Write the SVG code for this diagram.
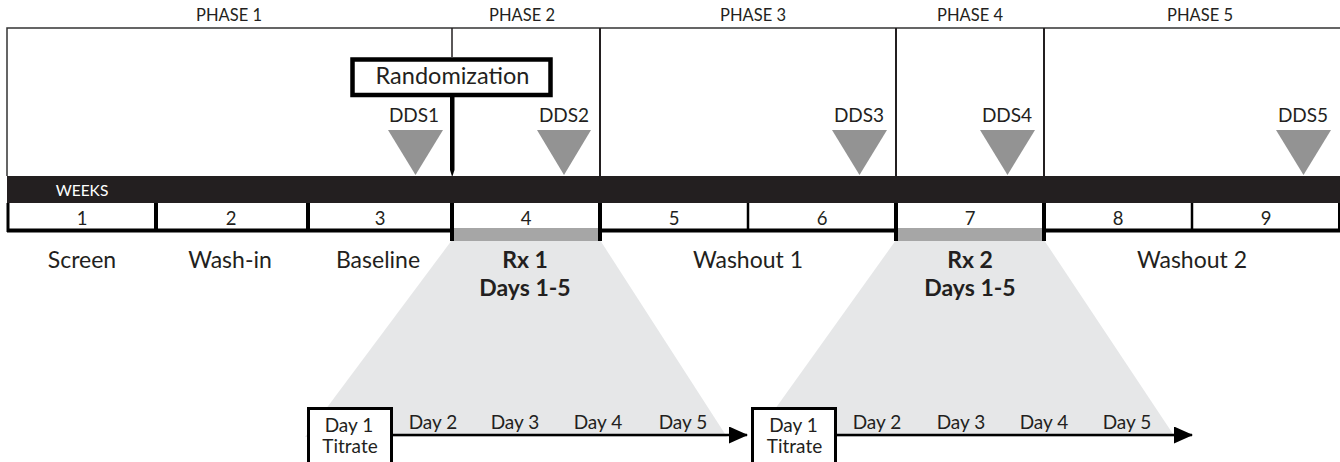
<svg xmlns="http://www.w3.org/2000/svg" width="1340" height="462" viewBox="0 0 1340 462">
<style>
text{font-family:Lato,"Open Sans","Liberation Sans",sans-serif;fill:#231f20}
.ph{font-size:16.5px;text-anchor:middle}
.wk{font-size:18.5px;text-anchor:middle}
.lb{font-size:23px;text-anchor:middle}
.bd{font-size:23px;text-anchor:middle;font-weight:bold}
.dds{font-size:19px;text-anchor:middle}
.day{font-size:19px;text-anchor:middle}
.tri{fill:#939393}
.trap{fill:#e6e7e8}
</style>
<defs>
<marker id="ah" markerWidth="19" markerHeight="17" refX="18" refY="8.5" orient="auto" markerUnits="userSpaceOnUse">
<path d="M0,0 L19,8.5 L0,17 Z" fill="#000"/>
</marker>
</defs>
<rect width="1340" height="462" fill="#fff"/>
<g id="trapezoids">
<polygon class="trap" points="452,240 600,240 727,437 305,437"/>
<polygon class="trap" points="896,240 1044,240 1175,437 755,437"/>
</g>
<g id="frame">
<path d="M7,176 V28 H1340" fill="none" stroke="#333" stroke-width="1.5"/>
<line x1="452" y1="28" x2="452" y2="57" stroke="#231f20" stroke-width="1.5"/>
<line x1="600" y1="28" x2="600" y2="176" stroke="#231f20" stroke-width="2"/>
<line x1="896" y1="28" x2="896" y2="176" stroke="#231f20" stroke-width="2"/>
<line x1="1044" y1="28" x2="1044" y2="176" stroke="#231f20" stroke-width="2"/>
</g>
<g id="phases">
<text class="ph" x="229" y="21">PHASE 1</text>
<text class="ph" x="522" y="21">PHASE 2</text>
<text class="ph" x="753" y="21">PHASE 3</text>
<text class="ph" x="970" y="21">PHASE 4</text>
<text class="ph" x="1200" y="21">PHASE 5</text>
</g>
<g id="dds">
<polygon class="tri" points="388,130 443,130 415.5,175"/>
<polygon class="tri" points="537,130 591,130 564,175"/>
<polygon class="tri" points="832,130 887,130 859.5,175"/>
<polygon class="tri" points="980,130 1035,130 1007.5,175"/>
<polygon class="tri" points="1276,130 1331,130 1303.5,175"/>
<text class="dds" x="414" y="121.5">DDS1</text>
<text class="dds" x="564" y="121.5">DDS2</text>
<text class="dds" x="859" y="121.5">DDS3</text>
<text class="dds" x="1007" y="121.5">DDS4</text>
<text class="dds" x="1303" y="121.5">DDS5</text>
</g>
<g id="randomization">
<rect x="352.5" y="59.5" width="198" height="35.5" fill="#fff" stroke="#000" stroke-width="4.5"/>
<text x="452.5" y="83.5" font-size="23.5" text-anchor="middle">Randomization</text>
<path d="M450,97 H454.5 V170 L452.2,177 L450,170 Z" fill="#000"/>
</g>
<g id="weeks">
<rect x="7" y="176" width="1333" height="27" fill="#231f20"/>
<text x="82" y="196" font-size="15.5" style="fill:#fff" text-anchor="middle">WEEKS</text>
<rect x="7" y="203" width="1333" height="27" fill="#fff"/>
<line x1="7" y1="230.5" x2="1340" y2="230.5" stroke="#000" stroke-width="4"/>
<line x1="8" y1="203" x2="8" y2="232" stroke="#000" stroke-width="3"/>
<line x1="156" y1="203" x2="156" y2="232" stroke="#000" stroke-width="4"/>
<line x1="308" y1="203" x2="308" y2="232" stroke="#000" stroke-width="4"/>
<line x1="748" y1="203" x2="748" y2="232" stroke="#000" stroke-width="2.5"/>
<line x1="1192" y1="203" x2="1192" y2="232" stroke="#000" stroke-width="2.5"/>
<line x1="1339" y1="203" x2="1339" y2="232" stroke="#000" stroke-width="2"/>
<rect x="454" y="228" width="144" height="13" fill="#a6a6a6"/>
<rect x="898" y="228" width="144" height="13" fill="#a6a6a6"/>
<line x1="452" y1="203" x2="452" y2="241" stroke="#000" stroke-width="4"/>
<line x1="600" y1="203" x2="600" y2="241" stroke="#000" stroke-width="4"/>
<line x1="896" y1="203" x2="896" y2="241" stroke="#000" stroke-width="4"/>
<line x1="1044" y1="203" x2="1044" y2="241" stroke="#000" stroke-width="4"/>
<text class="wk" x="82" y="225">1</text>
<text class="wk" x="231" y="225">2</text>
<text class="wk" x="380" y="225">3</text>
<text class="wk" x="526" y="225">4</text>
<text class="wk" x="674" y="225">5</text>
<text class="wk" x="822" y="225">6</text>
<text class="wk" x="970" y="225">7</text>
<text class="wk" x="1118" y="225">8</text>
<text class="wk" x="1266" y="225">9</text>
</g>
<g id="periods">
<text class="lb" x="82" y="268">Screen</text>
<text class="lb" x="230" y="268">Wash-in</text>
<text class="lb" x="378" y="268">Baseline</text>
<text class="bd" x="525" y="268">Rx 1</text>
<text class="bd" x="525" y="296">Days 1-5</text>
<text class="lb" x="748" y="268">Washout 1</text>
<text class="bd" x="970" y="268">Rx 2</text>
<text class="bd" x="970" y="296">Days 1-5</text>
<text class="lb" x="1192" y="268">Washout 2</text>
</g>
<g id="connectors">
<line x1="392" y1="435" x2="747" y2="435" stroke="#000" stroke-width="2.5" marker-end="url(#ah)"/>
<line x1="836" y1="435" x2="1192" y2="435" stroke="#000" stroke-width="2.5" marker-end="url(#ah)"/>
</g>
<g id="day1a">
<rect x="308.5" y="408.5" width="83" height="56" fill="#fff" stroke="#000" stroke-width="3"/>
<text class="day" x="349" y="432">Day 1</text>
<text class="day" x="350" y="453">Titrate</text>
</g>
<g id="day1b">
<rect x="752.5" y="408.5" width="83" height="56" fill="#fff" stroke="#000" stroke-width="3"/>
<text class="day" x="793.5" y="432">Day 1</text>
<text class="day" x="794.5" y="453">Titrate</text>
</g>
<g id="days">
<text class="day" x="433" y="428.5">Day 2</text>
<text class="day" x="515" y="428.5">Day 3</text>
<text class="day" x="598" y="428.5">Day 4</text>
<text class="day" x="683" y="428.5">Day 5</text>
<text class="day" x="877" y="428.5">Day 2</text>
<text class="day" x="961" y="428.5">Day 3</text>
<text class="day" x="1044" y="428.5">Day 4</text>
<text class="day" x="1127" y="428.5">Day 5</text>
</g>
</svg>
